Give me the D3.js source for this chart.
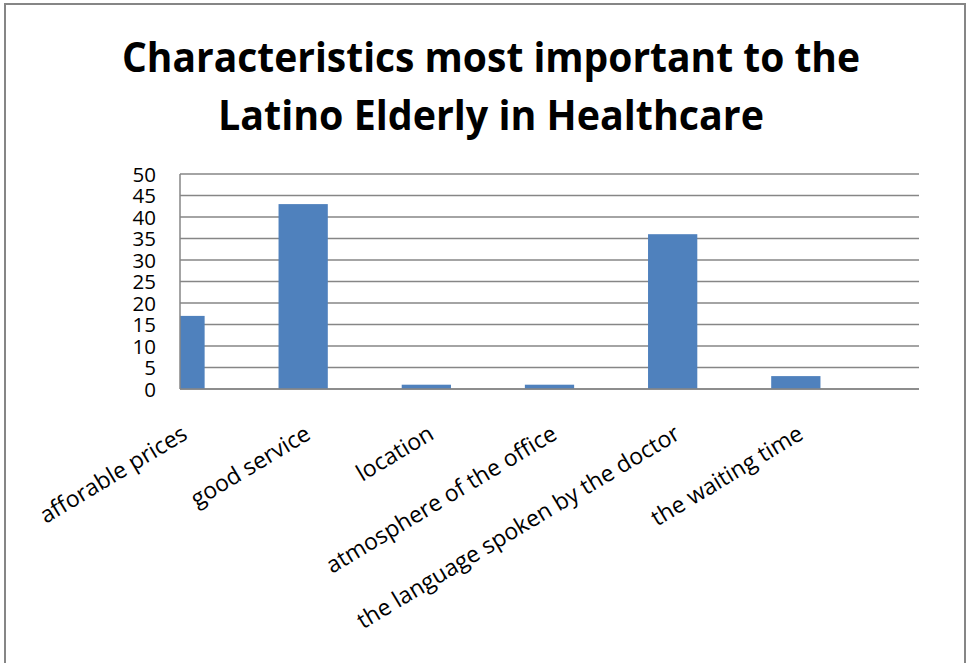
<!DOCTYPE html>
<html>
<head>
<meta charset="utf-8">
<script src="https://cdn.jsdelivr.net/npm/d3@7"></script>
<style>
  html, body { margin: 0; padding: 0; background: #fff; }
  svg { display: block; }
</style>
</head>
<body>
<svg id="chart" width="967" height="663"></svg>
<script>
// Survey results: what matters most to Latino elderly patients
const titleLines = ["Characteristics most important to the", "Latino Elderly in Healthcare"];
const categories = [
  "afforable prices",
  "good service",
  "location",
  "atmosphere of the office",
  "the language spoken by the doctor",
  "the waiting time"
];
const counts = [17, 43, 1, 1, 36, 3];
const yTicks = [0, 5, 10, 15, 20, 25, 30, 35, 40, 45, 50];

const svg = d3.select("#chart");
const plot = { left: 180, right: 919, top: 174, bottom: 389 };
const gridColor = "#868686";
const barColor = "#4F81BD";

// outer frame (bottom edge runs off the page)
svg.append("rect")
  .attr("x", 5).attr("y", 4)
  .attr("width", 960).attr("height", 665)
  .attr("fill", "#fff")
  .attr("stroke", gridColor)
  .attr("stroke-width", 2);

// title
svg.append("g")
  .selectAll("text")
  .data(titleLines)
  .join("text")
  .attr("x", 491)
  .attr("y", (d, i) => 72 + i * 58)
  .attr("text-anchor", "middle")
  .attr("font-family", "'Open Sans', sans-serif")
  .attr("font-weight", "bold")
  .attr("font-size", 41)
  .attr("fill", "#000")
  .attr("textLength", (d, i) => i === 0 ? 738 : 546)
  .attr("lengthAdjust", "spacingAndGlyphs")
  .text(d => d);

// scales: each category is centred on its own gridline step, starting at the value axis
const step = (plot.right - plot.left) / categories.length;
const x = d3.scaleBand()
  .domain(categories)
  .range([plot.left - step / 2, plot.right - step / 2])
  .paddingInner(0.6)
  .paddingOuter(0.3);

const y = d3.scaleLinear()
  .domain([0, 50])
  .range([plot.bottom, plot.top]);

// horizontal gridlines
svg.append("g")
  .selectAll("line")
  .data(yTicks)
  .join("line")
  .attr("x1", plot.left).attr("x2", plot.right)
  .attr("y1", d => y(d)).attr("y2", d => y(d))
  .attr("stroke", gridColor)
  .attr("stroke-width", 1.5);

// bars, clipped to the plotting area
svg.append("clipPath").attr("id", "plotClip")
  .append("rect")
  .attr("x", plot.left).attr("y", plot.top - 2)
  .attr("width", plot.right - plot.left)
  .attr("height", plot.bottom - plot.top + 2);

svg.append("g")
  .attr("clip-path", "url(#plotClip)")
  .selectAll("rect")
  .data(categories.map((c, i) => ({ c, v: counts[i] })))
  .join("rect")
  .attr("x", d => x(d.c))
  .attr("y", d => y(d.v))
  .attr("width", x.bandwidth())
  .attr("height", d => y(0) - y(d.v))
  .attr("fill", barColor);

// axis lines
svg.append("line")
  .attr("x1", plot.left).attr("x2", plot.left)
  .attr("y1", plot.top).attr("y2", plot.bottom)
  .attr("stroke", gridColor).attr("stroke-width", 1.5);
svg.append("line")
  .attr("x1", plot.left).attr("x2", plot.right)
  .attr("y1", plot.bottom).attr("y2", plot.bottom)
  .attr("stroke", gridColor).attr("stroke-width", 1.5);

// value axis labels
const yAxis = d3.axisLeft(y).tickValues(yTicks).tickSize(0).tickPadding(0);
const yg = svg.append("g")
  .attr("transform", `translate(${plot.left - 24},0)`)
  .call(yAxis);
yg.select(".domain").remove();
yg.selectAll("text")
  .attr("font-family", "'Open Sans', sans-serif")
  .attr("font-size", 20.5)
  .attr("fill", "#000")
  .attr("dy", "0.36em");

// category labels, rotated
svg.append("g")
  .selectAll("text")
  .data(categories)
  .join("text")
  .attr("text-anchor", "end")
  .attr("font-family", "'Open Sans', sans-serif")
  .attr("font-size", 23)
  .attr("fill", "#000")
  .attr("transform", d => `translate(${x(d) + x.bandwidth() / 2 + 9},438) rotate(-31)`)
  .text(d => d);
</script>
</body>
</html>
